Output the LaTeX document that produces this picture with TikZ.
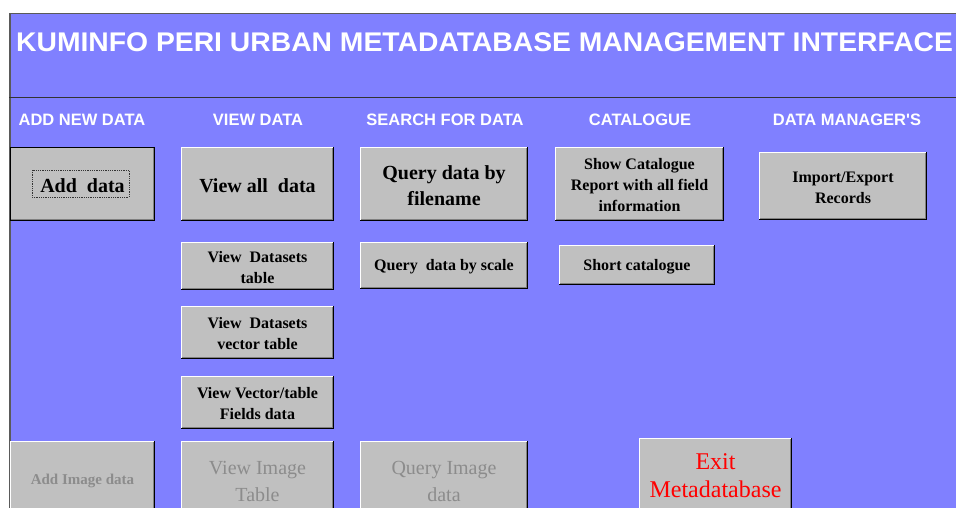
\documentclass[tikz,border=0pt]{standalone}
\usepackage{fontspec}
\setmainfont{Liberation Serif}
\setsansfont{Liberation Sans}
\definecolor{bgblue}{RGB}{128,128,255}
\definecolor{btngray}{RGB}{192,192,192}
\definecolor{btnshade}{RGB}{128,128,128}
\definecolor{distext}{RGB}{140,140,140}
\definecolor{framegray}{RGB}{90,90,90}
\tikzset{
  btn/.style={rectangle, fill=btngray, inner sep=0pt},
  btntxt/.style={inner sep=0pt, align=center,
    font=\bfseries\fontsize{16}{21}\selectfont},
  bigtxt/.style={font=\bfseries\fontsize{20}{26}\selectfont},
  distxt/.style={text=distext, font=\fontsize{20}{27}\selectfont},
  hdr/.style={anchor=base, text=white, inner sep=0pt,
    font=\sffamily\bfseries\fontsize{16.5}{19}\selectfont},
}
\newcommand{\mybtn}[7][]{%
  \node[btn,minimum width={#5-#3},minimum height={#6-#4}] (#2) at ({(#3+#5)/2},{(#4+#6)/2}) {};
  \node[btntxt,#1] (#2-t) at ([shift={(0,1.5)}]#2.center) {#7};
  \draw[white,line width=1pt] ([shift={(0.5,-0.5)}]#2.south west) -- ([shift={(0.5,0.5)}]#2.north west) -- ([shift={(-1,0.5)}]#2.north east);
  \draw[btnshade,line width=1pt] ([shift={(-1.5,1)}]#2.north east) -- ([shift={(-1.5,-1.5)}]#2.south east) -- ([shift={(1,-1.5)}]#2.south west);
  \draw[black,line width=1pt] ([shift={(-0.5,0)}]#2.north east) -- ([shift={(-0.5,-0.5)}]#2.south east) -- ([shift={(0,-0.5)}]#2.south west);
}
\begin{document}
\begin{tikzpicture}[x=1pt,y=-1pt]
\useasboundingbox (0,0) rectangle (956,507);
\clip (0,0) rectangle (956,507);
\fill[white] (0,0) rectangle (956,507);
% panel
\fill[bgblue] (9,13) rectangle (960,510);
\draw[framegray,line width=1.2pt] (9,13.5) -- (960,13.5);
\draw[framegray,line width=2pt] (10,13) -- (10,510);
\draw[black!80,line width=1pt] (9,97.5) -- (960,97.5);
% title
\node[anchor=base west, inner sep=0pt, text=white,
  font=\sffamily\bfseries\fontsize{27}{30}\selectfont] (title) at (16,51)
  {\scalebox{1.048}[1]{KUMINFO PERI URBAN METADATABASE MANAGEMENT INTERFACE}};
% headers
\node[hdr] (h1) at (82,125) {ADD NEW DATA};
\node[hdr] (h2) at (258,125) {VIEW DATA};
\node[hdr] (h3) at (445,125) {SEARCH FOR DATA};
\node[hdr] (h4) at (640,125) {CATALOGUE};
\node[hdr] (h5) at (847,125) {DATA MANAGER\textquotesingle S};
% row 1
\mybtn[bigtxt]{adddata}{10}{147}{155}{221}{Add\ \ data}
\draw[black,line width=1pt] ([shift={(0.5,-0.5)}]adddata.south west) rectangle ([shift={(-0.5,0.5)}]adddata.north east);
\draw[black!80,densely dotted,line width=0.8pt] (32,170) rectangle (129,197);
\mybtn[bigtxt]{viewall}{181}{147}{334}{221}{View all\ \ data}
\mybtn[bigtxt]{qfile}{360}{147}{528}{221}{Query data by\\filename}
\mybtn{showcat}{555}{147}{724}{221}{Show Catalogue\\Report with all field\\information}
\mybtn{impexp}{759}{152}{927}{220}{Import/Export\\Records}
% row 2
\mybtn{vdtable}{181}{242}{334}{290}{View\ \ Datasets\\table}
\mybtn{qscale}{360}{242}{528}{289}{Query\ \ data by scale}
\mybtn{shortcat}{559}{245}{715}{285}{Short catalogue}
% rows 3-4
\mybtn{vdvector}{181}{306}{334}{359}{View\ \ Datasets\\vector table}
\mybtn{vvfields}{181}{376}{334}{429}{View Vector/table\\Fields data}
% bottom row
\mybtn[text=distext,font=\bfseries\fontsize{15}{19}\selectfont]{addimg}{10}{441}{155}{517}{Add Image data}
\mybtn[distxt]{viewimg}{181}{441}{334}{519}{View Image\\Table}
\mybtn[distxt]{queryimg}{360}{441}{528}{519}{Query Image\\data}
\mybtn[text=red,font=\fontsize{24}{28}\selectfont]{exitdb}{639}{438}{792}{511}{Exit\\Metadatabase}
\end{tikzpicture}
\end{document}
